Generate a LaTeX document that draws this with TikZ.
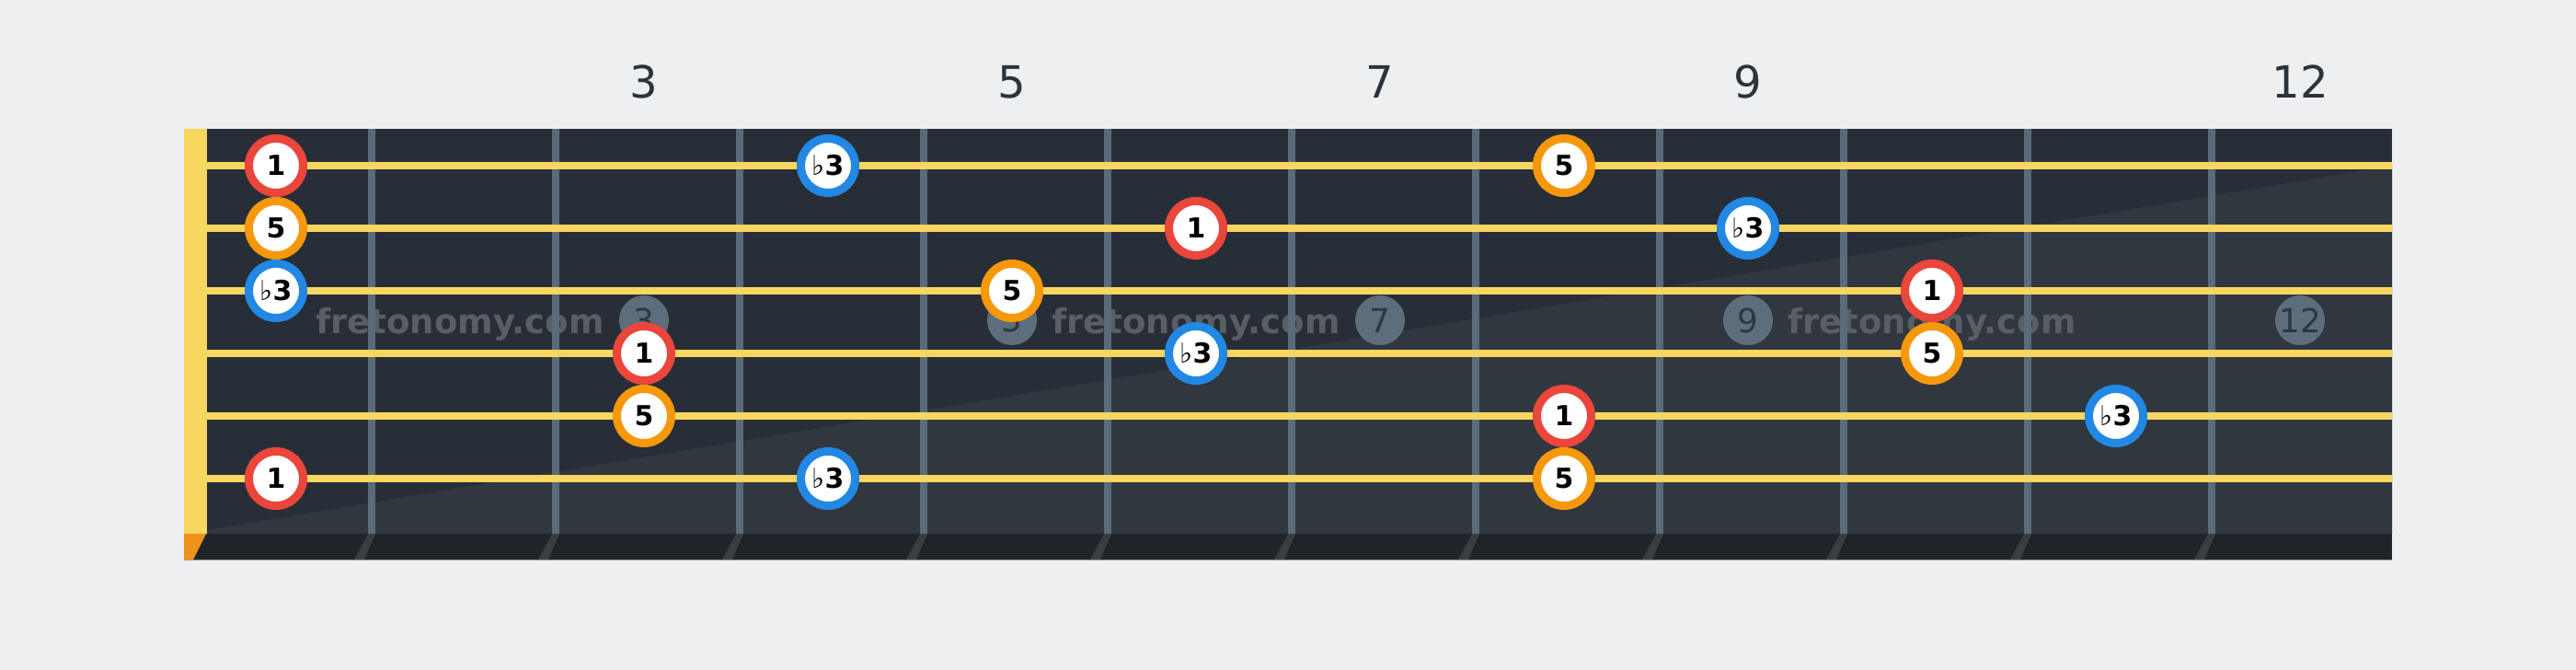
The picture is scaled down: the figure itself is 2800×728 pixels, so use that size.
\documentclass[tikz,border=0pt]{standalone}
\usepackage{fontspec}
\setmainfont{DejaVu Sans}
\definecolor{bgcol}{HTML}{EEEFF1}
\definecolor{boardtop}{HTML}{282E37}
\definecolor{boardlow}{HTML}{31373F}
\definecolor{boardfoot}{HTML}{202428}
\definecolor{edgecol}{HTML}{9A9EA3}
\definecolor{wirecol}{HTML}{5A6B7A}
\definecolor{wirefoot}{HTML}{3A3D41}
\definecolor{stringcol}{HTML}{F8D760}
\definecolor{nutfoot}{HTML}{F0921A}
\definecolor{rootcol}{HTML}{EA463B}
\definecolor{fifthcol}{HTML}{F6980B}
\definecolor{thirdcol}{HTML}{2288E3}
\definecolor{dotcol}{HTML}{5C6E7C}
\definecolor{dottext}{HTML}{2F3741}
\definecolor{numcol}{HTML}{2B333C}
\definecolor{markcol}{HTML}{5A5E63}
\newcommand{\flatthree}{{\mdseries ♭}3}

\begin{document}
\begin{tikzpicture}[x=0.01cm,y=-0.01cm,
  note/.style={circle,draw,line width=0.09cm,fill=white,minimum size=0.59cm,inner sep=0pt,font=\fontsize{8.5}{8.5}\selectfont\bfseries},
  root/.style={note,draw=rootcol},
  fifth/.style={note,draw=fifthcol},
  third/.style={note,draw=thirdcol},
  inlay/.style={circle,fill=dotcol,minimum size=0.54cm,inner sep=0pt,text=dottext,font=\fontsize{10.2}{10.2}\selectfont},
  fretnum/.style={anchor=base,text=numcol,font=\fontsize{13.7}{13.7}\selectfont},
  watermark/.style={anchor=base,text=markcol,font=\fontsize{10.5}{10.5}\selectfont\bfseries}]
\useasboundingbox (0,0) rectangle (2800,728);
\fill[bgcol] (0,0) rectangle (2800,728);

% board
\fill[boardtop] (200,140) rectangle (2600,580);
\fill[boardlow] (200,580) -- (2600,180) -- (2600,580) -- cycle;
\fill[boardfoot] (200,580) rectangle (2600,608);
\draw[edgecol,line width=0.01cm] (200,608.5) -- (2600,608.5);

% fret numbers
\node[fretnum] (num3) at (700,107) {3};
\node[fretnum] (num5) at (1100,107) {5};
\node[fretnum] (num7) at (1500,107) {7};
\node[fretnum] (num9) at (1900,107) {9};
\node[fretnum] (num12) at (2500,107) {12};

% watermark
\node[watermark] (mark1) at (500,363) {fretonomy.com};
\node[watermark] (mark2) at (1300,363) {fretonomy.com};
\node[watermark] (mark3) at (2100,363) {fretonomy.com};

% frets
\foreach \k in {1,...,11} {
  \fill[wirecol] (200*\k+200,140) rectangle (200*\k+208,580);
  \fill[wirefoot] (200*\k+200,580) -- (200*\k+208,580) -- (200*\k+196,608) -- (200*\k+185,608) -- cycle;
}

% inlays
\node[inlay] (dot3) at (700,348) {3};
\node[inlay] (dot5) at (1100,348) {5};
\node[inlay] (dot7) at (1500,348) {7};
\node[inlay] (dot9) at (1900,348) {9};
\node[inlay] (dot12) at (2500,348) {12};

% nut and strings
\fill[stringcol] (200,140) rectangle (225,580);
\fill[nutfoot] (200,580) -- (224,580) -- (210,608) -- (200,608) -- cycle;
\foreach \s in {0,...,5}
  \fill[stringcol] (225,176+68*\s) rectangle (2600,184+68*\s);

% notes
\node[root] (s1f1) at (300,180) {1};
\node[third] (s1f4) at (900,180) {\flatthree};
\node[fifth] (s1f8) at (1700,180) {5};
\node[fifth] (s2f1) at (300,248) {5};
\node[root] (s2f6) at (1300,248) {1};
\node[third] (s2f9) at (1900,248) {\flatthree};
\node[third] (s3f1) at (300,316) {\flatthree};
\node[fifth] (s3f5) at (1100,316) {5};
\node[root] (s3f10) at (2100,316) {1};
\node[root] (s4f3) at (700,384) {1};
\node[third] (s4f6) at (1300,384) {\flatthree};
\node[fifth] (s4f10) at (2100,384) {5};
\node[fifth] (s5f3) at (700,452) {5};
\node[root] (s5f8) at (1700,452) {1};
\node[third] (s5f11) at (2300,452) {\flatthree};
\node[root] (s6f1) at (300,520) {1};
\node[third] (s6f4) at (900,520) {\flatthree};
\node[fifth] (s6f8) at (1700,520) {5};
\end{tikzpicture}
\end{document}
